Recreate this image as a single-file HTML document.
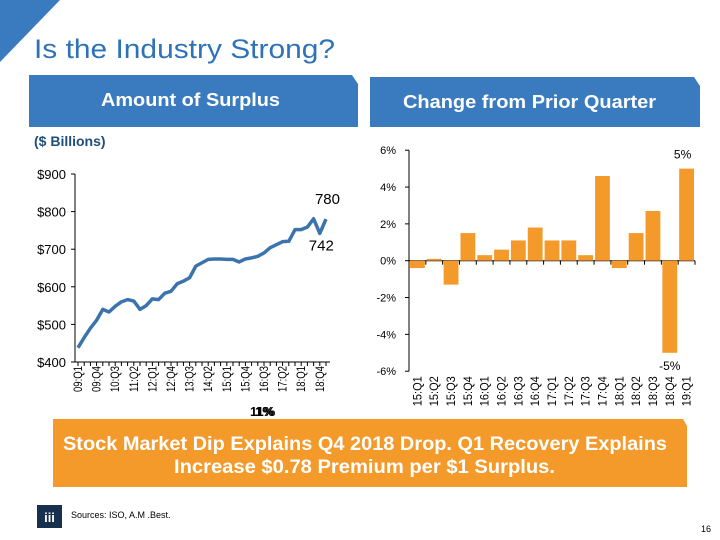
<!DOCTYPE html>
<html><head><meta charset="utf-8"><style>
body{margin:0;background:#fff;}
svg{display:block;font-family:"Liberation Sans",sans-serif;}
</style></head><body>
<svg id="s" width="720" height="540" viewBox="0 0 720 540">
<polygon points="0,0 60,0 0,62" fill="#3a7bbf"/>
<text x="34" y="58" font-size="27" fill="#2e72b8" textLength="301" lengthAdjust="spacingAndGlyphs">Is the Industry Strong?</text>
<polygon points="29,75 352,75 358,84 358,127 29,127" fill="#3a7bbf"/>
<text x="101" y="106" font-size="18" fill="#fff" font-weight="bold" textLength="179" lengthAdjust="spacingAndGlyphs">Amount of Surplus</text>
<polygon points="370,77 694,77 700,86 700,127 370,127" fill="#3a7bbf"/>
<text x="403" y="108" font-size="18" fill="#fff" font-weight="bold" textLength="253" lengthAdjust="spacingAndGlyphs">Change from Prior Quarter</text>
<text x="34" y="146" font-size="14" fill="#1f4e79" font-weight="bold">($ Billions)</text>
<g id="left"></g>
<g id="right"></g>
<text x="250" y="416" font-size="13" font-weight="bold" fill="#000">11%</text>
<text x="255" y="416" font-size="13" font-weight="bold" fill="#000">1%</text>
<polygon points="53,419 683,419 687,426 687,487 53,487" fill="#f39a2b"/>
<text x="63" y="450" font-size="19" fill="#fff" font-weight="bold" textLength="604" lengthAdjust="spacingAndGlyphs">Stock Market Dip Explains Q4 2018 Drop. Q1 Recovery Explains</text>
<text x="174" y="473" font-size="19" fill="#fff" font-weight="bold" textLength="381" lengthAdjust="spacingAndGlyphs">Increase  $0.78 Premium per $1 Surplus.</text>
<rect x="37" y="505" width="25" height="23" fill="#17304d"/>
<text x="49.5" y="522" font-size="13" fill="#fff" text-anchor="middle" font-weight="bold">iii</text>
<text x="71" y="518" font-size="9" fill="#000">Sources: ISO, A.M .Best.</text>
<text x="711" y="532" font-size="9" fill="#000" text-anchor="end">16</text>
</svg>
<script>
const surplusQuarters=["09:Q1","09:Q2","09:Q3","09:Q4","10:Q1","10:Q2","10:Q3","10:Q4","11:Q1","11:Q2","11:Q3","11:Q4","12:Q1","12:Q2","12:Q3","12:Q4","13:Q1","13:Q2","13:Q3","13:Q4","14:Q1","14:Q2","14:Q3","14:Q4","15:Q1","15:Q2","15:Q3","15:Q4","16:Q1","16:Q2","16:Q3","16:Q4","17:Q1","17:Q2","17:Q3","17:Q4","18:Q1","18:Q2","18:Q3","18:Q4","19:Q1"];
const surplusValues=[438,465,490,511,540,533,548,560,566,562,540,550,568,566,583,588,608,615,624,655,664,673,674,674,673,673,666,674,677,681,690,704,712,720,721,752,752,759,781,742,780];
const surplusTicks=[400,500,600,700,800,900];
const changeQuarters=["15:Q1","15:Q2","15:Q3","15:Q4","16:Q1","16:Q2","16:Q3","16:Q4","17:Q1","17:Q2","17:Q3","17:Q4","18:Q1","18:Q2","18:Q3","18:Q4","19:Q1"];
const changeValues=[-0.4,0.1,-1.3,1.5,0.3,0.6,1.1,1.8,1.1,1.1,0.3,4.6,-0.4,1.5,2.7,-5.0,5.0];
const changeTicks=[-6,-4,-2,0,2,4,6];
const NS="http://www.w3.org/2000/svg";
function mk(p,t,a,txt){const e=document.createElementNS(NS,t);for(const k in a)e.setAttribute(k,a[k]);if(txt!==undefined)e.textContent=txt;p.appendChild(e);return e;}
const L=document.getElementById('left');
const lx=i=>78+i*(248/(surplusValues.length-1));
const ly=v=>362-(v-400)*(188/500);
mk(L,'line',{x1:75,y1:174,x2:75,y2:362,stroke:'#000','stroke-width':1});
mk(L,'line',{x1:75,y1:362,x2:330,y2:362,stroke:'#000','stroke-width':1});
surplusTicks.forEach(t=>{
 mk(L,'line',{x1:71,y1:ly(t),x2:75,y2:ly(t),stroke:'#000'});
 const e=mk(L,'text',{x:66,y:ly(t)+5,'font-size':13,'text-anchor':'end',fill:'#000'},'$'+t);
 
 
});
surplusQuarters.forEach((q,i)=>{
 mk(L,'line',{x1:lx(i),y1:362,x2:lx(i),y2:366,stroke:'#000'});
 if(i%3===0&&i<40){
  const e=mk(L,'text',{x:0,y:0,'font-size':12,'text-anchor':'end',fill:'#000',textLength:26,lengthAdjust:'spacingAndGlyphs',transform:`translate(${lx(i)+4},366) rotate(-90)`},q);
  
  
 }
});
const ln=mk(L,'polyline',{points:surplusValues.map((v,i)=>lx(i)+','+ly(v)).join(' '),fill:'none',stroke:'#3b74ad','stroke-width':3.5,'stroke-linejoin':'round'});


const n=surplusValues.length;
let e1=mk(L,'text',{x:lx(n-1)+14,y:ly(surplusValues[n-1])-15,'font-size':15,'text-anchor':'end',fill:'#000'},String(surplusValues[n-1]));


let e2=mk(L,'text',{x:lx(n-2)+14,y:ly(surplusValues[n-2])+17,'font-size':15,'text-anchor':'end',fill:'#000'},String(surplusValues[n-2]));


const R=document.getElementById('right');
const bw=(695-409)/changeValues.length;
const rx=i=>409+i*bw;
const ry=v=>260.7-v*(110.5/6);
mk(R,'line',{x1:409,y1:ry(6),x2:409,y2:ry(-6),stroke:'#000'});
mk(R,'line',{x1:409,y1:ry(0),x2:695,y2:ry(0),stroke:'#000'});
changeTicks.forEach(t=>{
 mk(R,'line',{x1:405,y1:ry(t),x2:409,y2:ry(t),stroke:'#000'});
 const e=mk(R,'text',{x:396,y:ry(t)+4,'font-size':11,'text-anchor':'end',fill:'#000'},t+'%');
 
 
});
changeValues.forEach((v,i)=>{
 const y0=ry(Math.max(v,0)),h=Math.abs(ry(v)-ry(0));
 const b=mk(R,'rect',{x:rx(i)+1,y:y0,width:bw-2,height:h,fill:'#f39a2b'});
 
 
 mk(R,'line',{x1:rx(i+1),y1:ry(0),x2:rx(i+1),y2:ry(0)+4,stroke:'#000'});
 const e=mk(R,'text',{x:0,y:0,'font-size':12,'text-anchor':'end',fill:'#000',textLength:30,lengthAdjust:'spacingAndGlyphs',transform:`translate(${rx(i)+bw/2+4},${ry(-6)+5}) rotate(-90)`},changeQuarters[i]);
 
 
});
const m=changeValues.length;
let e3=mk(R,'text',{x:rx(m-1)+bw/2-4,y:ry(changeValues[m-1])-10,'font-size':12,'text-anchor':'middle',fill:'#000'},Math.round(changeValues[m-1])+'%');


let e4=mk(R,'text',{x:rx(m-2)+bw/2,y:ry(changeValues[m-2])+17,'font-size':12,'text-anchor':'middle',fill:'#000'},Math.round(changeValues[m-2])+'%');


</script>
</body></html>
